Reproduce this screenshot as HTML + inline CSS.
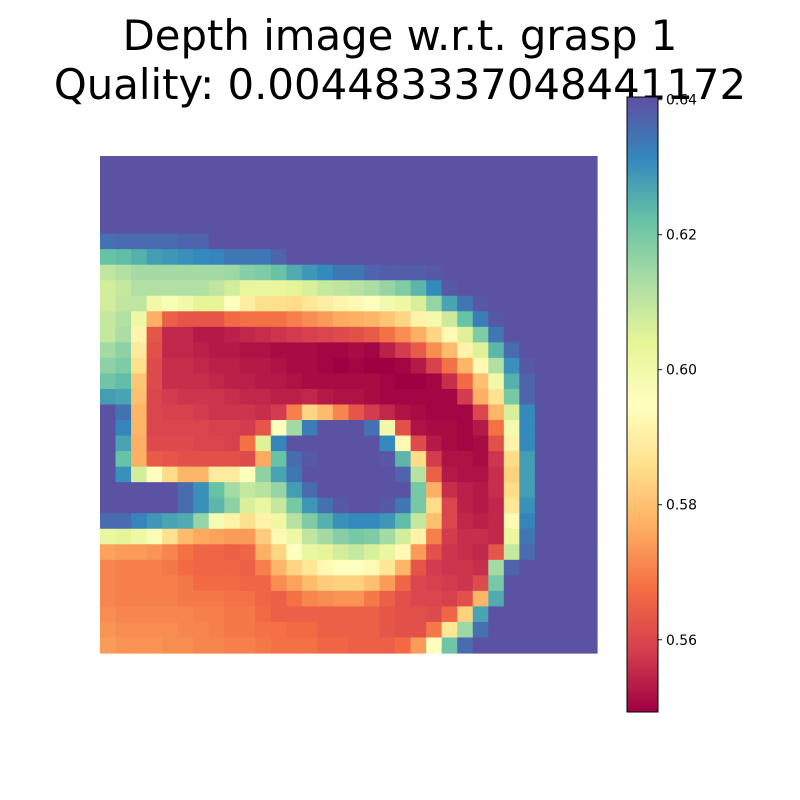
<!DOCTYPE html>
<html><head><meta charset="utf-8"><style>
html,body{margin:0;padding:0;background:#fff;width:800px;height:800px;overflow:hidden}
svg text{font-family:"DejaVu Sans","Liberation Sans",sans-serif}
</style></head><body>
<svg id="chart" width="800" height="800" viewBox="0 0 800 800" xmlns="http://www.w3.org/2000/svg">
<text x="400" y="50" font-size="41.8" text-anchor="middle">Depth image w.r.t. grasp 1</text>
<text x="400" y="99" font-size="41.8" text-anchor="middle">Quality: 0.004483337048441172</text>
<g id="heatmap"></g>
<defs><linearGradient id="cgrad" x1="0" y1="1" x2="0" y2="0"></linearGradient></defs>
<g id="colorbar"></g>
</svg>
<script>
const vmin = 0.5493;
const vmax = 0.6404;
const cbTicks = [0.56, 0.58, 0.60, 0.62, 0.64];
const cbTickLabels = ["0.56", "0.58", "0.60", "0.62", "0.64"];
const row00=[.640,.640,.640,.640,.640,.640,.640,.640,.640,.640,.640,.640,.640,.640,.640,.640,.640,.640,.640,.640,.640,.640,.640,.640,.640,.640,.640,.640,.640,.640,.640,.640];
const row01=[.640,.640,.640,.640,.640,.640,.640,.640,.640,.640,.640,.640,.640,.640,.640,.640,.640,.640,.640,.640,.640,.640,.640,.640,.640,.640,.640,.640,.640,.640,.640,.640];
const row02=[.640,.640,.640,.640,.640,.640,.640,.640,.640,.640,.640,.640,.640,.640,.640,.640,.640,.640,.640,.640,.640,.640,.640,.640,.640,.640,.640,.640,.640,.640,.640,.640];
const row03=[.640,.640,.640,.640,.640,.640,.640,.640,.640,.640,.640,.640,.640,.640,.640,.640,.640,.640,.640,.640,.640,.640,.640,.640,.640,.640,.640,.640,.640,.640,.640,.640];
const row04=[.640,.640,.640,.640,.640,.640,.640,.640,.640,.640,.640,.640,.640,.640,.640,.640,.640,.640,.640,.640,.640,.640,.640,.640,.640,.640,.640,.640,.640,.640,.640,.640];
const row05=[.635,.636,.636,.636,.636,.637,.637,.640,.640,.640,.640,.640,.640,.640,.640,.640,.640,.640,.640,.640,.640,.640,.640,.640,.640,.640,.640,.640,.640,.640,.640,.640];
const row06=[.622,.623,.625,.628,.629,.630,.631,.632,.634,.634,.634,.637,.640,.640,.640,.640,.640,.640,.640,.640,.640,.640,.640,.640,.640,.640,.640,.640,.640,.640,.640,.640];
const row07=[.610,.612,.614,.614,.614,.614,.614,.614,.615,.618,.619,.622,.626,.629,.631,.634,.634,.637,.638,.638,.638,.639,.640,.640,.640,.640,.640,.640,.640,.640,.640,.640];
const row08=[.607,.609,.612,.612,.612,.612,.612,.610,.607,.603,.602,.603,.604,.606,.609,.610,.611,.613,.616,.619,.624,.631,.639,.640,.640,.640,.640,.640,.640,.640,.640,.640];
const row09=[.607,.610,.610,.600,.597,.600,.604,.604,.595,.590,.586,.586,.585,.588,.590,.592,.593,.595,.599,.601,.606,.616,.627,.634,.639,.640,.640,.640,.640,.640,.640,.640];
const row10=[.609,.612,.601,.577,.565,.563,.563,.563,.567,.568,.568,.568,.570,.572,.574,.576,.577,.578,.581,.584,.591,.599,.608,.622,.633,.639,.640,.640,.640,.640,.640,.640];
const row11=[.609,.613,.592,.563,.555,.555,.553,.553,.554,.555,.556,.557,.558,.559,.560,.561,.562,.564,.568,.572,.577,.584,.593,.605,.619,.634,.640,.640,.640,.640,.640,.640];
const row12=[.614,.617,.589,.562,.555,.555,.554,.553,.553,.552,.552,.551,.551,.551,.550,.550,.551,.550,.554,.558,.564,.572,.579,.591,.605,.624,.636,.640,.640,.640,.640,.640];
const row13=[.617,.619,.586,.561,.556,.556,.555,.554,.554,.553,.553,.552,.551,.551,.550,.549,.550,.549,.549,.550,.553,.559,.568,.578,.593,.612,.630,.639,.640,.640,.640,.640];
const row14=[.621,.623,.581,.561,.556,.556,.556,.555,.554,.554,.553,.553,.552,.551,.551,.551,.551,.551,.550,.549,.549,.550,.556,.567,.580,.600,.625,.637,.640,.640,.640,.640];
const row15=[.628,.627,.580,.560,.558,.557,.557,.557,.556,.555,.555,.554,.554,.555,.553,.552,.552,.551,.550,.550,.550,.550,.550,.558,.577,.587,.620,.637,.640,.640,.640,.640];
const row16=[.640,.635,.578,.560,.559,.559,.558,.557,.557,.557,.556,.558,.570,.584,.579,.571,.563,.558,.555,.552,.551,.550,.550,.550,.560,.578,.606,.631,.640,.640,.640,.640];
const row17=[.640,.632,.578,.560,.560,.560,.560,.559,.559,.558,.563,.595,.614,.633,.640,.640,.640,.635,.600,.562,.552,.551,.551,.550,.553,.568,.599,.631,.640,.640,.640,.640];
const row18=[.640,.627,.577,.561,.561,.561,.560,.560,.559,.568,.605,.632,.640,.640,.640,.640,.640,.640,.631,.593,.561,.553,.551,.550,.551,.562,.591,.631,.640,.640,.640,.640];
const row19=[.640,.622,.577,.564,.563,.562,.562,.562,.562,.561,.576,.622,.636,.639,.640,.640,.640,.640,.639,.624,.585,.558,.552,.552,.551,.557,.585,.628,.640,.640,.640,.640];
const row20=[.640,.630,.607,.595,.585,.578,.578,.589,.589,.596,.617,.627,.634,.640,.640,.640,.640,.640,.640,.637,.611,.565,.553,.552,.552,.556,.583,.628,.640,.640,.640,.640];
const row21=[.640,.640,.640,.640,.640,.636,.630,.622,.614,.609,.611,.616,.628,.636,.640,.640,.640,.640,.640,.640,.620,.577,.556,.554,.553,.556,.585,.628,.640,.640,.640,.640];
const row22=[.640,.640,.640,.640,.640,.636,.630,.624,.617,.606,.602,.609,.620,.629,.635,.639,.640,.640,.639,.634,.620,.585,.560,.554,.553,.555,.588,.630,.640,.640,.640,.640];
const row23=[.636,.636,.632,.629,.627,.626,.616,.598,.591,.586,.591,.601,.611,.619,.625,.630,.631,.631,.629,.623,.609,.580,.560,.555,.554,.555,.593,.632,.640,.640,.640,.640];
const row24=[.602,.604,.601,.597,.586,.579,.576,.575,.574,.574,.582,.593,.601,.610,.614,.618,.620,.619,.614,.607,.591,.570,.558,.556,.556,.555,.602,.634,.640,.640,.640,.640];
const row25=[.575,.574,.574,.573,.571,.568,.566,.566,.565,.566,.577,.584,.595,.602,.604,.607,.609,.606,.602,.593,.574,.562,.557,.556,.555,.563,.609,.636,.640,.640,.640,.640];
const row26=[.571,.570,.570,.570,.569,.567,.566,.566,.566,.565,.570,.578,.584,.588,.593,.595,.595,.593,.588,.578,.563,.558,.557,.557,.556,.614,.637,.640,.640,.640,.640,.640];
const row27=[.571,.570,.570,.570,.570,.569,.567,.567,.567,.566,.566,.572,.575,.579,.582,.583,.583,.580,.574,.566,.560,.559,.558,.557,.561,.620,.640,.640,.640,.640,.640,.640];
const row28=[.571,.570,.570,.570,.570,.569,.569,.569,.568,.568,.566,.565,.568,.571,.572,.573,.573,.569,.565,.562,.560,.560,.559,.562,.578,.626,.640,.640,.640,.640,.640,.640];
const row29=[.572,.571,.571,.571,.571,.571,.570,.570,.569,.569,.567,.565,.565,.565,.565,.565,.565,.565,.563,.562,.562,.561,.566,.583,.627,.640,.640,.640,.640,.640,.640,.640];
const row30=[.573,.572,.572,.572,.572,.571,.571,.570,.569,.569,.568,.568,.567,.567,.565,.565,.565,.565,.563,.562,.562,.569,.588,.615,.635,.640,.640,.640,.640,.640,.640,.640];
const row31=[.574,.573,.573,.573,.572,.572,.571,.571,.570,.570,.569,.568,.568,.568,.566,.566,.565,.565,.565,.567,.574,.595,.621,.636,.640,.640,.640,.640,.640,.640,.640,.640];
const depthRows=[row00,row01,row02,row03,row04,row05,row06,row07,row08,row09,row10,row11,row12,row13,row14,row15,row16,row17,row18,row19,row20,row21,row22,row23,row24,row25,row26,row27,row28,row29,row30,row31];

const NS="http://www.w3.org/2000/svg";
const spectral=["#9e0142","#d53e4f","#f46d43","#fdae61","#fee08b","#ffffbf","#e6f598","#abdda4","#66c2a5","#3288bd","#5e4fa2"];
function hex(h){return [parseInt(h.slice(1,3),16),parseInt(h.slice(3,5),16),parseInt(h.slice(5,7),16)];}
function cmap(v){
  let t=(v-vmin)/(vmax-vmin); t=Math.max(0,Math.min(1,t));
  const p=t*10, i=Math.min(9,Math.floor(p)), f=p-i;
  const a=hex(spectral[i]), b=hex(spectral[i+1]);
  return "rgb("+a.map((c,k)=>Math.round(c+(b[k]-c)*f)).join(",")+")";
}
const X0=100, Y0=156, W=497, H=497;
const nRows=depthRows.length, nCols=depthRows[0].length;
const xScale=c=>X0+c*W/nCols;
const yScale=r=>Y0+r*H/nRows;
const hm=document.getElementById("heatmap");
depthRows.forEach((row,r)=>{
  row.forEach((v,c)=>{
    const rect=document.createElementNS(NS,"rect");
    rect.setAttribute("x",xScale(c));
    rect.setAttribute("y",yScale(r));
    rect.setAttribute("width",W/nCols+0.6);
    rect.setAttribute("height",H/nRows+0.6);
    rect.setAttribute("fill",cmap(v));
    
    
    hm.appendChild(rect);
  });
});
const CX=627, CY0=97, CY1=712, CW=31;
const cbScale=v=>CY1-(v-vmin)/(vmax-vmin)*(CY1-CY0);
const grad=document.getElementById("cgrad");
spectral.forEach((col,i)=>{
  const s=document.createElementNS(NS,"stop");
  s.setAttribute("offset",(i*10)+"%");
  s.setAttribute("stop-color",col);
  grad.appendChild(s);
});
const cb=document.getElementById("colorbar");
const bar=document.createElementNS(NS,"rect");
bar.setAttribute("x",CX);bar.setAttribute("y",CY0);bar.setAttribute("width",CW);bar.setAttribute("height",CY1-CY0);
bar.setAttribute("fill","url(#cgrad)");bar.setAttribute("stroke","#000");bar.setAttribute("stroke-width","1");


cb.appendChild(bar);
cbTicks.forEach((v,i)=>{
  const y=cbScale(v);
  const ln=document.createElementNS(NS,"line");
  ln.setAttribute("x1",CX+CW);ln.setAttribute("x2",CX+CW+4);ln.setAttribute("y1",y);ln.setAttribute("y2",y);
  ln.setAttribute("stroke","#000");ln.setAttribute("stroke-width","0.9");
  
  
  cb.appendChild(ln);
  const tx=document.createElementNS(NS,"text");
  tx.setAttribute("x",CX+CW+8);tx.setAttribute("y",y+5);tx.setAttribute("font-size","13.9");
  tx.textContent=cbTickLabels[i];
  
  
  cb.appendChild(tx);
});
</script>
</body></html>
